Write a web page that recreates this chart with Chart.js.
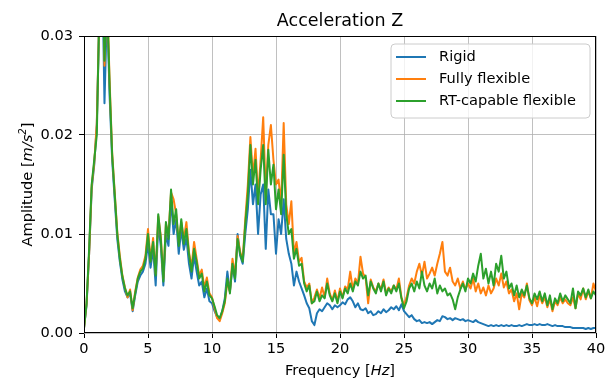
<!DOCTYPE html>
<html><head><meta charset="utf-8">
<script src="https://cdn.jsdelivr.net/npm/chart.js@4"></script>
<style>html,body{margin:0;padding:0;background:#fff}#wrap{width:616px;height:380px}</style>
</head><body><div id="wrap"><canvas id="c" width="616" height="380"></canvas></div>
<script>
// Frequency sample points [Hz]
const freqs = [
0,0.2,0.4,0.6,0.8, 1,1.2,1.4,1.6,1.8, 2,2.2,2.4,2.6,2.8, 3,3.2,3.4,3.6,3.8,
4,4.2,4.4,4.6,4.8, 5,5.2,5.4,5.6,5.8, 6,6.2,6.4,6.6,6.8, 7,7.2,7.4,7.6,7.8,
8,8.2,8.4,8.6,8.8, 9,9.2,9.4,9.6,9.8, 10,10.2,10.4,10.6,10.8, 11,11.2,11.4,11.6,11.8,
12,12.2,12.4,12.6,12.8, 13,13.2,13.4,13.6,13.8, 14,14.2,14.4,14.6,14.8, 15,15.2,15.4,15.6,15.8,
16,16.2,16.4,16.6,16.8, 17,17.2,17.4,17.6,17.8, 18,18.2,18.4,18.6,18.8, 19,19.2,19.4,19.6,19.8,
20,20.2,20.4,20.6,20.8, 21,21.2,21.4,21.6,21.8, 22,22.2,22.4,22.6,22.8, 23,23.2,23.4,23.6,23.8,
24,24.2,24.4,24.6,24.8, 25,25.2,25.4,25.6,25.8, 26,26.2,26.4,26.6,26.8, 27,27.2,27.4,27.6,27.8,
28,28.2,28.4,28.6,28.8, 29,29.2,29.4,29.6,29.8, 30,30.2,30.4,30.6,30.8, 31,31.2,31.4,31.6,31.8,
32,32.2,32.4,32.6,32.8, 33,33.2,33.4,33.6,33.8, 34,34.2,34.4,34.6,34.8, 35,35.2,35.4,35.6,35.8,
36,36.2,36.4,36.6,36.8, 37,37.2,37.4,37.6,37.8, 38,38.2,38.4,38.6,38.8, 39,39.2,39.4,39.6,39.8,
40];

// Amplitude [m/s^2] - Rigid
const rigid = [
5e-4,28e-4,80e-4,145e-4,170e-4, 210e-4,320e-4,390e-4,232e-4,330e-4, 240e-4,175e-4,135e-4,95e-4,72e-4, 54e-4,42e-4,36e-4,40e-4,22e-4,
38e-4,52e-4,58e-4,62e-4,70e-4, 90e-4,66e-4,85e-4,48e-4,110e-4, 88e-4,48e-4,100e-4,88e-4,135e-4, 100e-4,115e-4,80e-4,105e-4,84e-4,
96e-4,70e-4,55e-4,78e-4,62e-4, 48e-4,52e-4,36e-4,45e-4,32e-4, 30e-4,22e-4,16e-4,14e-4,22e-4, 35e-4,62e-4,42e-4,68e-4,52e-4,
100e-4,78e-4,70e-4,100e-4,125e-4, 165e-4,130e-4,150e-4,100e-4,140e-4, 150e-4,85e-4,145e-4,120e-4,120e-4, 80e-4,115e-4,100e-4,135e-4,95e-4,
80e-4,70e-4,48e-4,62e-4,52e-4, 45e-4,38e-4,30e-4,25e-4,12e-4, 8e-4,20e-4,24e-4,22e-4,26e-4, 30e-4,28e-4,24e-4,28e-4,26e-4,
28e-4,31e-4,29e-4,34e-4,36e-4, 32e-4,26e-4,30e-4,24e-4,23e-4, 25e-4,20e-4,22e-4,18e-4,19e-4, 22e-4,20e-4,24e-4,21e-4,23e-4,
26e-4,24e-4,27e-4,23e-4,29e-4, 22e-4,19e-4,16e-4,18e-4,14e-4, 12e-4,13e-4,10e-4,11e-4,10e-4, 11e-4,9e-4,11e-4,13e-4,12e-4,
17e-4,16e-4,14e-4,15e-4,13e-4, 15e-4,14e-4,13e-4,14e-4,12e-4, 13e-4,12e-4,11e-4,13e-4,11e-4, 10e-4,9e-4,8e-4,7e-4,8e-4,
7e-4,8e-4,7e-4,8e-4,7e-4, 8e-4,7e-4,8e-4,7e-4,7e-4, 8e-4,7e-4,8e-4,9e-4,8e-4, 8e-4,9e-4,8e-4,9e-4,8e-4,
8e-4,9e-4,8e-4,7e-4,8e-4, 7e-4,7e-4,7e-4,6e-4,6e-4, 6e-4,5e-4,5e-4,5e-4,5e-4, 5e-4,4e-4,5e-4,4e-4,5e-4,
5e-4];

// Amplitude [m/s^2] - Fully flexible
const fullyFlexible = [
5e-4,30e-4,80e-4,148e-4,172e-4, 212e-4,325e-4,410e-4,270e-4,345e-4, 255e-4,182e-4,142e-4,102e-4,78e-4, 58e-4,46e-4,36e-4,44e-4,23e-4,
42e-4,56e-4,64e-4,68e-4,78e-4, 105e-4,74e-4,96e-4,60e-4,118e-4, 98e-4,55e-4,110e-4,100e-4,142e-4, 135e-4,120e-4,92e-4,112e-4,95e-4,
112e-4,82e-4,66e-4,92e-4,75e-4, 58e-4,64e-4,46e-4,56e-4,40e-4, 36e-4,25e-4,15e-4,12e-4,20e-4, 30e-4,52e-4,42e-4,75e-4,58e-4,
98e-4,82e-4,74e-4,115e-4,150e-4, 198e-4,158e-4,186e-4,138e-4,175e-4, 218e-4,140e-4,190e-4,210e-4,175e-4, 150e-4,155e-4,130e-4,212e-4,130e-4,
110e-4,133e-4,80e-4,92e-4,72e-4, 76e-4,52e-4,46e-4,50e-4,30e-4, 36e-4,44e-4,35e-4,46e-4,36e-4, 55e-4,40e-4,33e-4,43e-4,32e-4,
45e-4,36e-4,47e-4,44e-4,62e-4, 44e-4,55e-4,50e-4,77e-4,60e-4, 56e-4,30e-4,54e-4,46e-4,42e-4, 50e-4,44e-4,54e-4,40e-4,46e-4,
42e-4,48e-4,44e-4,55e-4,36e-4, 28e-4,36e-4,48e-4,55e-4,50e-4, 62e-4,70e-4,58e-4,72e-4,55e-4, 60e-4,66e-4,58e-4,70e-4,80e-4,
92e-4,62e-4,58e-4,66e-4,52e-4, 48e-4,55e-4,45e-4,52e-4,44e-4, 50e-4,45e-4,55e-4,42e-4,50e-4, 40e-4,46e-4,38e-4,48e-4,40e-4,
45e-4,55e-4,48e-4,60e-4,46e-4, 52e-4,40e-4,44e-4,32e-4,40e-4, 24e-4,40e-4,36e-4,50e-4,33e-4, 28e-4,36e-4,27e-4,38e-4,30e-4,
36e-4,26e-4,34e-4,22e-4,32e-4, 28e-4,36e-4,30e-4,34e-4,30e-4, 28e-4,36e-4,25e-4,40e-4,34e-4, 45e-4,34e-4,42e-4,35e-4,50e-4,
42e-4];

// Amplitude [m/s^2] - RT-capable flexible
const rtFlexible = [
5e-4,30e-4,85e-4,150e-4,175e-4, 200e-4,330e-4,400e-4,275e-4,340e-4, 250e-4,180e-4,140e-4,100e-4,75e-4, 57e-4,45e-4,38e-4,42e-4,25e-4,
40e-4,55e-4,62e-4,65e-4,75e-4, 100e-4,72e-4,92e-4,58e-4,120e-4, 95e-4,52e-4,112e-4,95e-4,145e-4, 110e-4,125e-4,88e-4,115e-4,90e-4,
105e-4,80e-4,62e-4,85e-4,72e-4, 55e-4,60e-4,42e-4,52e-4,38e-4, 35e-4,27e-4,18e-4,15e-4,22e-4, 32e-4,55e-4,40e-4,70e-4,55e-4,
95e-4,80e-4,72e-4,110e-4,140e-4, 190e-4,150e-4,175e-4,130e-4,165e-4, 190e-4,130e-4,185e-4,150e-4,170e-4, 125e-4,145e-4,120e-4,180e-4,120e-4,
100e-4,105e-4,75e-4,85e-4,68e-4, 70e-4,50e-4,42e-4,48e-4,30e-4, 32e-4,42e-4,32e-4,38e-4,35e-4, 50e-4,38e-4,32e-4,40e-4,30e-4,
42e-4,35e-4,45e-4,40e-4,50e-4, 42e-4,52e-4,48e-4,62e-4,55e-4, 58e-4,38e-4,52e-4,45e-4,40e-4, 50e-4,42e-4,52e-4,38e-4,45e-4,
40e-4,48e-4,42e-4,50e-4,35e-4, 25e-4,32e-4,45e-4,50e-4,42e-4, 52e-4,45e-4,62e-4,48e-4,42e-4, 50e-4,45e-4,55e-4,40e-4,48e-4,
42e-4,45e-4,38e-4,40e-4,34e-4, 24e-4,36e-4,44e-4,50e-4,42e-4, 55e-4,50e-4,60e-4,52e-4,68e-4, 80e-4,55e-4,65e-4,50e-4,62e-4,
48e-4,70e-4,62e-4,78e-4,55e-4, 62e-4,45e-4,50e-4,38e-4,48e-4, 36e-4,44e-4,38e-4,48e-4,35e-4, 30e-4,40e-4,34e-4,42e-4,32e-4,
40e-4,28e-4,38e-4,24e-4,35e-4, 30e-4,40e-4,32e-4,38e-4,34e-4, 30e-4,45e-4,25e-4,42e-4,38e-4, 45e-4,36e-4,44e-4,35e-4,42e-4,
38e-4];

const xTicks = [0,5,10,15,20,25,30,35,40];
const yTicks = [0,0.01,0.02,0.03];
const seriesNames = ['Rigid','Fully flexible','RT-capable flexible'];
const seriesColors = ['#1f77b4','#ff7f0e','#2ca02c'];
const titleText = 'Acceleration Z';

const FONT = '"DejaVu Sans", sans-serif';
const FS = 14.6;
const toPts = arr => arr.map((v,i)=>({x:freqs[i], y:v}));

function drawMixed(ctx, parts, cx, cy) {
  let total = 0;
  parts.forEach(p => { ctx.font = p.font; p.w = ctx.measureText(p.t).width; total += p.w; });
  let x = cx - total/2;
  ctx.textAlign = 'left';
  parts.forEach(p => { ctx.font = p.font; ctx.fillText(p.t, x, cy + (p.dy||0)); x += p.w; });
}

const decor = {
  id: 'decor',
  afterDatasetsDraw(chart) {
    const ctx = chart.ctx, a = chart.chartArea;
    ctx.save();
    ctx.strokeStyle = '#000'; ctx.lineWidth = 1;
    ctx.strokeRect(Math.round(a.left)+0.5, Math.round(a.top)+0.5, Math.round(a.right-a.left)-1, Math.round(a.bottom-a.top)-1);
    ctx.fillStyle = '#000';
    ctx.textBaseline = 'alphabetic';
    ctx.textAlign = 'center';
    ctx.font = '17.5px ' + FONT;
    ctx.fillText(titleText, (a.left+a.right)/2, 26);
    drawMixed(ctx, [
      {t:'Frequency [', font:FS+'px '+FONT},
      {t:'Hz', font:'italic '+FS+'px '+FONT},
      {t:']', font:FS+'px '+FONT}
    ], (a.left+a.right)/2, 375);
    ctx.save();
    ctx.translate(32, (a.top+a.bottom)/2);
    ctx.rotate(-Math.PI/2);
    drawMixed(ctx, [
      {t:'Amplitude [', font:FS+'px '+FONT},
      {t:'m/s', font:'italic '+FS+'px '+FONT},
      {t:'2', font:'italic 10.2px '+FONT, dy:-6},
      {t:']', font:FS+'px '+FONT}
    ], 0, 0);
    ctx.restore();
    const lx = 391, ly = 44, lw = 199, lh = 74, r = 4;
    ctx.beginPath();
    ctx.moveTo(lx+r, ly); ctx.lineTo(lx+lw-r, ly); ctx.arcTo(lx+lw, ly, lx+lw, ly+r, r);
    ctx.lineTo(lx+lw, ly+lh-r); ctx.arcTo(lx+lw, ly+lh, lx+lw-r, ly+lh, r);
    ctx.lineTo(lx+r, ly+lh); ctx.arcTo(lx, ly+lh, lx, ly+lh-r, r);
    ctx.lineTo(lx, ly+r); ctx.arcTo(lx, ly, lx+r, ly, r); ctx.closePath();
    ctx.fillStyle = 'rgba(255,255,255,0.8)'; ctx.fill();
    ctx.strokeStyle = '#cccccc'; ctx.lineWidth = 1; ctx.stroke();
    ctx.font = FS + 'px ' + FONT; ctx.textBaseline = 'middle'; ctx.textAlign = 'left';
    seriesNames.forEach((n,i) => {
      const y = 57 + i*22;
      ctx.strokeStyle = seriesColors[i]; ctx.lineWidth = 2;
      ctx.beginPath(); ctx.moveTo(396, y); ctx.lineTo(426, y); ctx.stroke();
      ctx.fillStyle = '#000'; ctx.fillText(n, 439, y);
    });
    ctx.restore();
  }
};

const seriesData = [rigid, fullyFlexible, rtFlexible];
new Chart(document.getElementById('c'), {
  type: 'line',
  data: {
    datasets: seriesData.map((d,i) => ({
      label: seriesNames[i], data: toPts(d),
      borderColor: seriesColors[i], backgroundColor: seriesColors[i],
      borderWidth: 2, pointRadius: 0, tension: 0, fill: false,
      borderJoinStyle: 'round', order: 3 - i
    }))
  },
  options: {
    responsive: false, animation: false, devicePixelRatio: 1,
    layout: { padding: { top: 36, right: 20, left: 0, bottom: 0 } },
    plugins: { legend: { display: false }, tooltip: { enabled: false }, title: { display: false } },
    scales: {
      x: {
        type: 'linear', min: 0, max: 40,
        afterBuildTicks: s => { s.ticks = xTicks.map(v => ({ value: v })); },
        afterFit: s => { s.height = 47; },
        ticks: { color: '#000', font: { family: FONT, size: FS }, padding: 2, maxRotation: 0, autoSkip: false, callback: v => String(v) },
        grid: { color: '#b0b0b0', lineWidth: 0.8, tickColor: '#000', tickLength: 5, tickWidth: 1 },
        border: { display: false }
      },
      y: {
        type: 'linear', min: 0, max: 0.03,
        afterBuildTicks: s => { s.ticks = yTicks.map(v => ({ value: v })); },
        afterFit: s => { s.width = 84; },
        ticks: { color: '#000', font: { family: FONT, size: FS }, padding: 6, autoSkip: false, callback: v => v.toFixed(2) },
        grid: { color: '#b0b0b0', lineWidth: 0.8, tickColor: '#000', tickLength: 5, tickWidth: 1 },
        border: { display: false }
      }
    }
  },
  plugins: [decor]
});
</script>
</body></html>
